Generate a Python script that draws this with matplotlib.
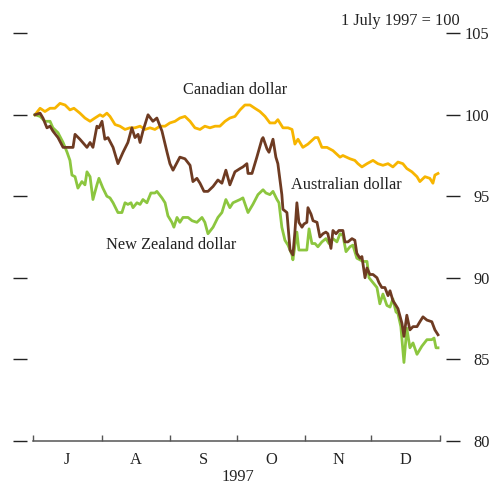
import matplotlib
matplotlib.use("Agg")
import matplotlib.pyplot as plt

plt.rcParams['font.family'] = ['Liberation Serif', 'DejaVu Serif']

# day of the half-year (0 = 1 July 1997) and index values (1 July 1997 = 100)
cad_day = [0.9, 3.2, 5.4, 7.7, 9.9, 12.2, 14.5, 16.7, 18.5, 21.2, 23.5, 25.8, 28.0, 30.3, 31.6,
           33.4, 34.8, 37.1, 39.3, 41.6, 43.8, 46.1, 48.4, 50.6, 52.9, 55.1, 57.4, 59.7, 61.9, 64.2,
           66.4, 68.7, 71.0, 73.2, 75.5, 77.7, 80.0, 82.3, 84.5, 86.8, 89.0, 91.3, 93.6, 95.8, 98.1,
           100.3, 102.6, 104.9, 107.1, 109.4, 110.7, 113.0, 115.3, 117.1, 118.4, 119.8, 122.0, 124.3,
           127.5, 128.8, 130.6, 132.9, 135.6, 138.8, 140.1, 143.3, 145.5, 146.9, 148.7, 151.0, 153.7,
           155.9, 158.2, 160.5, 162.7, 165.0, 167.2, 169.0, 171.3, 173.6, 174.9, 177.2, 179.4, 180.8,
           181.7, 183.1]
cad_val = [100.0, 100.4, 100.2, 100.4, 100.4, 100.7, 100.6, 100.3, 100.4, 100.1, 99.8, 99.6, 99.8,
           100.0, 99.9, 100.1, 99.9, 99.4, 99.3, 99.1, 99.2, 99.2, 99.3, 99.1, 99.2, 99.1, 99.3, 99.3,
           99.5, 99.6, 99.8, 99.9, 99.6, 99.2, 99.1, 99.3, 99.2, 99.3, 99.3, 99.6, 99.8, 99.9, 100.3,
           100.6, 100.6, 100.4, 100.2, 99.9, 99.5, 99.5, 99.7, 99.2, 99.2, 99.1, 98.2, 98.5, 98.0, 98.2,
           98.6, 98.6, 98.0, 98.0, 97.8, 97.4, 97.5, 97.3, 97.2, 97.0, 96.8, 97.0, 97.2, 97.0, 96.9,
           97.0, 96.8, 97.1, 97.0, 96.7, 96.5, 96.2, 95.9, 96.2, 96.1, 95.8, 96.3, 96.4]

aud_day = [0.9, 3.2, 4.5, 6.3, 7.7, 9.0, 11.3, 13.6, 15.4, 16.7, 18.1, 19.0, 21.2, 24.4, 25.8,
           27.1, 28.9, 29.8, 31.2, 32.5, 33.9, 36.2, 38.4, 40.7, 42.9, 44.7, 46.1, 47.5, 48.4, 49.7,
           52.0, 54.2, 56.0, 58.3, 60.6, 61.9, 63.3, 66.4, 68.7, 71.0, 72.3, 74.1, 75.5, 77.3, 79.1,
           81.4, 83.6, 85.4, 87.2, 89.0, 91.3, 93.6, 94.9, 96.7, 97.2, 99.0, 101.2, 103.5, 104.0,
           105.8, 106.7, 108.5, 109.8, 110.7, 112.5, 113.0, 114.8, 116.2, 117.5, 118.4, 119.3, 120.2,
           121.6, 122.5, 123.8, 124.3, 125.7, 126.6, 128.4, 129.7, 131.1, 132.4, 133.3, 134.7, 135.6,
           137.0, 138.3, 140.1, 141.0, 142.4, 144.2, 145.5, 146.4, 147.8, 148.7, 150.1, 151.0, 152.3,
           153.7, 155.5, 156.4, 157.7, 159.1, 160.5, 161.4, 162.7, 164.1, 165.0, 166.8, 167.7, 169.0,
           170.4, 171.8, 173.6, 174.9, 176.3, 178.1, 180.3, 181.7, 183.1]
aud_val = [100.0, 100.1, 99.8, 99.2, 99.3, 99.0, 98.6, 98.0, 98.0, 98.0, 98.0, 98.8, 98.5, 98.0,
           98.3, 98.0, 99.3, 99.2, 99.6, 98.5, 98.6, 98.0, 97.0, 97.7, 98.3, 99.2, 98.6, 98.8, 98.3,
           99.0, 100.0, 99.6, 99.8, 99.0, 97.7, 97.0, 96.6, 97.4, 97.3, 96.9, 95.9, 96.1, 95.8, 95.3,
           95.3, 95.6, 96.0, 95.8, 96.6, 95.7, 96.5, 96.7, 96.8, 97.0, 96.4, 96.4, 97.4, 98.5, 98.6,
           97.9, 97.7, 98.5, 97.4, 97.0, 95.1, 94.2, 94.0, 91.7, 91.4, 92.8, 94.6, 93.4, 93.1, 93.3,
           93.4, 94.3, 93.9, 93.5, 93.4, 92.5, 92.7, 92.8, 92.7, 91.8, 92.9, 92.7, 92.9, 92.9, 92.2,
           92.2, 92.4, 92.3, 91.5, 91.2, 91.3, 90.0, 90.6, 90.2, 90.2, 90.0, 89.7, 89.4, 89.4, 88.9,
           89.2, 88.6, 88.3, 88.1, 87.2, 86.4, 87.7, 86.8, 87.0, 87.0, 87.3, 87.6, 87.4, 87.3, 86.8,
           86.5]

nzd_day = [0.9, 3.2, 5.4, 7.7, 9.0, 11.3, 13.6, 15.4, 16.7, 17.6, 19.0, 20.3, 22.1, 23.5, 24.4,
           25.8, 27.1, 28.9, 29.8, 31.6, 33.4, 34.8, 36.2, 38.4, 40.2, 41.6, 42.9, 44.3, 45.2, 47.0,
           48.4, 49.7, 51.5, 53.3, 55.1, 56.0, 58.3, 59.7, 61.0, 62.8, 63.7, 65.1, 66.4, 67.8, 70.1,
           71.9, 74.1, 76.4, 77.7, 79.1, 81.4, 83.6, 85.4, 87.2, 89.0, 90.4, 93.6, 94.9, 97.2, 99.4,
           101.7, 104.0, 105.3, 107.1, 108.5, 110.3, 111.2, 112.5, 113.9, 115.3, 117.1, 117.5, 119.3,
           120.2, 122.0, 123.8, 124.8, 126.1, 127.5, 128.8, 130.6, 132.4, 133.8, 135.6, 137.4, 138.8,
           140.1, 141.5, 143.3, 144.6, 146.4, 147.8, 149.2, 151.0, 151.9, 153.7, 155.5, 156.8, 158.2,
           160.0, 161.4, 162.7, 164.1, 165.0, 166.3, 167.7, 169.0, 170.4, 171.8, 173.6, 175.8, 178.1,
           180.3, 181.3, 182.2, 183.1]
nzd_val = [100.0, 99.9, 99.6, 99.6, 99.2, 98.9, 98.3, 97.7, 97.2, 96.3, 96.2, 95.5, 95.9, 95.7,
           96.5, 96.2, 94.8, 95.7, 96.1, 95.5, 95.0, 94.9, 94.6, 94.0, 94.0, 94.6, 94.5, 94.6, 94.3,
           94.6, 94.5, 94.8, 94.6, 95.2, 95.2, 95.3, 94.9, 94.6, 93.8, 93.4, 93.1, 93.7, 93.4, 93.7,
           93.7, 93.5, 93.4, 93.7, 93.4, 92.7, 93.1, 93.7, 94.0, 94.8, 94.3, 94.6, 94.8, 94.9, 94.0,
           94.5, 95.1, 95.4, 95.2, 95.1, 95.3, 94.8, 94.6, 93.1, 92.3, 92.0, 91.4, 91.1, 92.8, 91.7,
           91.7, 91.7, 93.0, 92.1, 92.1, 91.9, 92.2, 92.4, 92.1, 92.4, 92.2, 92.7, 92.6, 91.6, 91.9,
           92.0, 91.2, 91.1, 91.0, 91.0, 90.0, 89.7, 89.4, 88.4, 89.0, 88.3, 88.2, 88.7, 87.9, 87.8,
           87.0, 84.8, 86.9, 85.7, 86.0, 85.3, 85.8, 86.2, 86.2, 86.3, 85.7, 85.7]

month_edges = [0, 31, 62, 92, 123, 153, 184]
month_labels = ['J', 'A', 'S', 'O', 'N', 'D']
y_ticks = [80, 85, 90, 95, 100, 105]

text_col = '#222222'
dpi = 100
fig = plt.figure(figsize=(4.93, 4.86), dpi=dpi)
ax = fig.add_axes([33 / 493, 1 - 440.7 / 486, 407 / 493, 407.4 / 486])

ax.plot(cad_day, cad_val, color='#f7b500', lw=2.0)
ax.plot(nzd_day, nzd_val, color='#8cc63f', lw=2.0)
ax.plot(aud_day, aud_val, color='#6e3b22', lw=2.0)

ax.set_xlim(0, 184)
ax.set_ylim(80, 105)

for s in ['top', 'left', 'right']:
    ax.spines[s].set_visible(False)
ax.spines['bottom'].set_color('#555555')
ax.spines['bottom'].set_linewidth(1.1)
ax.spines['left'].set_position(('outward', 4.3))
ax.spines['right'].set_position(('outward', 4.3))

ax.set_yticks(y_ticks)
ax.tick_params(axis='y', which='major', left=True, right=True, labelleft=False,
               labelright=True, direction='out', length=9.8, width=1.0,
               color='#222222', pad=21.6, labelsize=11.8, labelcolor=text_col)
for lab in ax.get_yticklabels(which='major'):
    lab.set_horizontalalignment('right')

ax.set_xticks(month_edges)
ax.set_xticklabels([])
mids = [(a + b) / 2 for a, b in zip(month_edges[:-1], month_edges[1:])]
ax.set_xticks(mids, minor=True)
ax.set_xticklabels(month_labels, minor=True)
ax.tick_params(axis='x', which='major', direction='in', length=4.5, width=1.0,
               color='#555555')
ax.tick_params(axis='x', which='minor', length=0, pad=8, labelsize=11.8,
               labelcolor=text_col)

ax.text(91.3, 101.5, 'Canadian dollar', ha='center', va='center', fontsize=11.8, color=text_col)
ax.text(141.5, 95.7, 'Australian dollar', ha='center', va='center', fontsize=11.8, color=text_col)
ax.text(62.4, 92.0, 'New Zealand dollar', ha='center', va='center', fontsize=11.8, color=text_col)

fig.text(238 / 493, 1 - 477 / 486, '1997', ha='center', va='center', fontsize=11.8, color=text_col)
fig.text(460 / 493, 1 - 21 / 486, '1 July 1997 = 100', ha='right', va='center',
         fontsize=11.8, color=text_col)

fig.savefig('out.png', dpi=dpi)
